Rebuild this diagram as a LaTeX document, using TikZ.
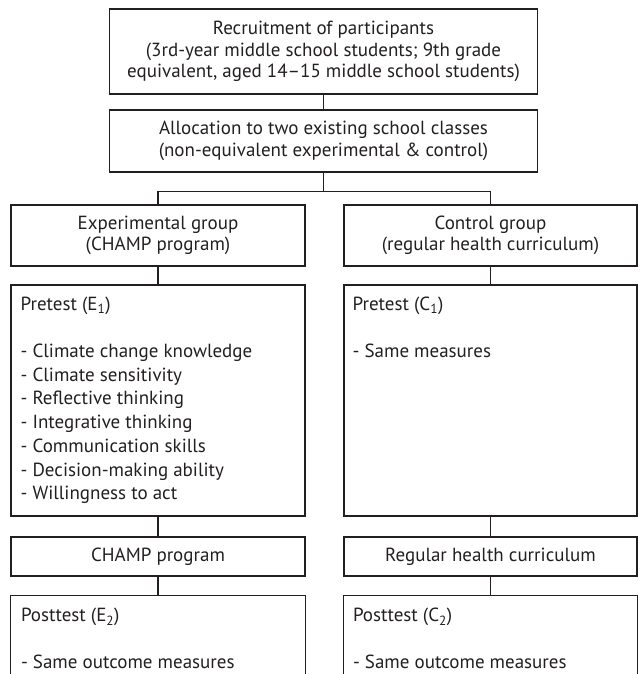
\documentclass[tikz,border=0pt]{standalone}
\usepackage{fontspec}
\setmainfont{PT Sans}
\definecolor{ink}{RGB}{35,31,32}
\tikzset{
  box/.style={draw=ink, line width=1.1pt, inner sep=0pt, align=center, text=ink},
  txt/.style={text=ink, align=left, anchor=north west, inner sep=0pt},
  link/.style={draw=ink, line width=1.1pt}
}
\begin{document}
\begin{tikzpicture}[x=1pt,y=1pt,font=\fontsize{19}{21.5}\selectfont]
\useasboundingbox (0,0) rectangle (640,674);

% upper boxes
\node[box, minimum width=428pt, minimum height=85pt] (rec) at (323.5,622.5) {Recruitment of participants\\(3rd-year middle school students; 9th grade\\equivalent, aged 14--15 middle school students)};
\node[box, minimum width=428pt, minimum height=62pt] (alloc) at (323.5,533) {Allocation to two existing school classes\\(non-equivalent experimental \& control)};

% groups
\node[box, minimum width=294pt, minimum height=61pt] (exp) at (158,438.5) {Experimental group\\(CHAMP program)};
\node[box, minimum width=293pt, minimum height=61pt] (ctl) at (490.5,438.5) {Control group\\(regular health curriculum)};

% pretest
\node[box, minimum width=294pt, minimum height=231pt] (preE) at (158,273.5) {};
\node[box, minimum width=293pt, minimum height=231pt] (preC) at (490.5,273.5) {};
\node[txt, font=\fontsize{19}{23.7}\selectfont] (preEtxt) at ([shift={(10,-12)}]preE.north west) {Pretest (E\textsubscript{1})\\[23.7pt]- Climate change knowledge\\- Climate sensitivity\\- Reflective thinking\\- Integrative thinking\\- Communication skills\\- Decision-making ability\\- Willingness to act};
\node[txt, font=\fontsize{19}{23.7}\selectfont] (preCtxt) at ([shift={(9,-12)}]preC.north west) {Pretest (C\textsubscript{1})\\[23.7pt]- Same measures};

% programs
\node[box, minimum width=294pt, minimum height=39pt] (progE) at (158,117.5) {CHAMP program};
\node[box, minimum width=293pt, minimum height=39pt] (progC) at (490.5,117.5) {Regular health curriculum};

% posttest (runs off the bottom)
\node[minimum width=294pt, minimum height=78pt, inner sep=0pt] (postE) at (158,39) {};
\node[minimum width=293pt, minimum height=78pt, inner sep=0pt] (postC) at (490.5,39) {};
\draw[link] (postE.south west) -- (postE.north west) -- (postE.north east) -- (postE.south east);
\draw[link] (postC.south west) -- (postC.north west) -- (postC.north east) -- (postC.south east);
\node[txt, font=\fontsize{19}{23.7}\selectfont] (postEtxt) at ([shift={(10,-12)}]postE.north west) {Posttest (E\textsubscript{2})\\[23.7pt]- Same outcome measures};
\node[txt, font=\fontsize{19}{23.7}\selectfont] (postCtxt) at ([shift={(9,-12)}]postC.north west) {Posttest (C\textsubscript{2})\\[23.7pt]- Same outcome measures};

% connectors
\draw[link] (rec) -- (alloc);
\draw[link] (alloc.south) -- ++(0,-19) coordinate (split);
\draw[link] (split) -| (exp.north);
\draw[link] (split) -| (ctl.north);
\draw[link] (exp) -- (preE);
\draw[link] (ctl) -- (preC);
\draw[link] (preE) -- (progE);
\draw[link] (preC) -- (progC);
\draw[link] (progE) -- (postE.north);
\draw[link] (progC) -- (postC.north);
\end{tikzpicture}
\end{document}
